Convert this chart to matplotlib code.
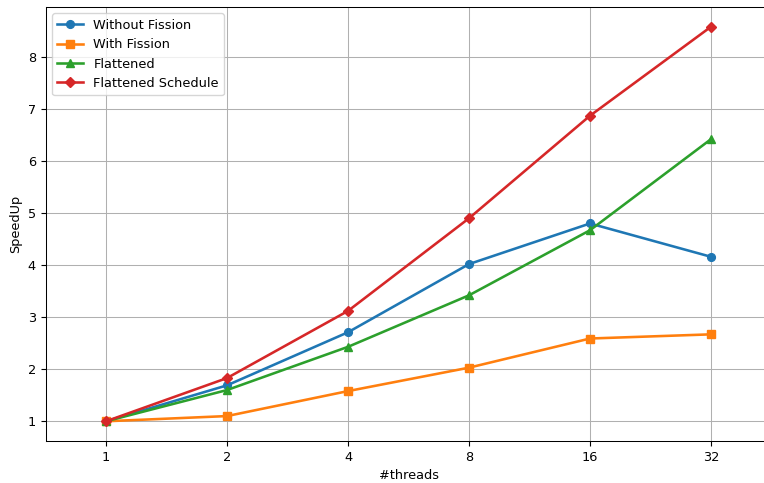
import matplotlib
matplotlib.use("Agg")
import matplotlib.pyplot as plt

threads = ["1", "2", "4", "8", "16", "32"]
without_fission = [1.0, 1.69, 2.71, 4.02, 4.80, 4.16]
with_fission = [1.0, 1.10, 1.58, 2.03, 2.59, 2.67]
flattened = [1.0, 1.60, 2.43, 3.42, 4.67, 6.42]
flattened_schedule = [1.0, 1.83, 3.12, 4.90, 6.87, 8.58]

# the reference looks like a slightly shrunk render, so scale everything ~0.93
scale = 0.93
plt.rcParams["font.size"] = 10 * scale
plt.rcParams["lines.linewidth"] = 2 * scale
plt.rcParams["lines.markersize"] = 6 * scale
plt.rcParams["axes.linewidth"] = 0.8 * scale
plt.rcParams["grid.linewidth"] = 0.8 * scale

fig = plt.figure(figsize=(7.64, 4.83), dpi=100)
# right spine falls just outside the picture in the reference
ax = fig.add_axes([45.5 / 764, 42 / 483, 726 / 764, 434 / 483])

x = range(len(threads))
ax.plot(x, without_fission, marker="o", label="Without Fission")
ax.plot(x, with_fission, marker="s", label="With Fission")
ax.plot(x, flattened, marker="^", label="Flattened")
ax.plot(x, flattened_schedule, marker="D", label="Flattened Schedule")

ax.set_xticks(list(x))
ax.set_xticklabels(threads)
ax.set_xlim(-0.5, len(threads) - 0.5)
ax.set_xlabel("#threads")
ax.set_ylabel("SpeedUp")
ax.grid(True)
ax.legend(loc="upper left")

fig.savefig("out.png", dpi=100)
